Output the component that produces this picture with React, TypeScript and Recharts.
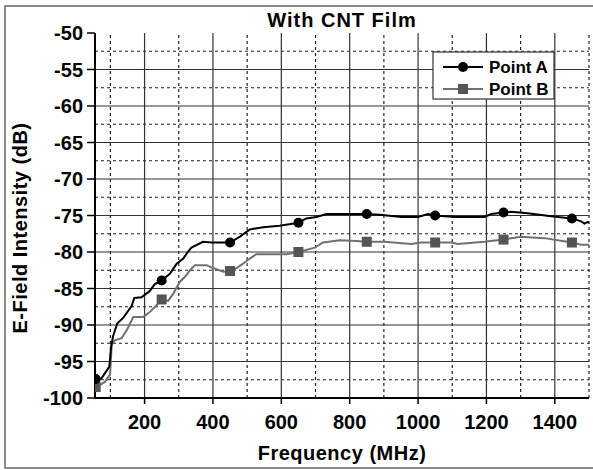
import { LineChart, Line, XAxis, YAxis, ReferenceLine } from 'recharts';

// Point A (black, circles)
const freqA = [57, 74, 97, 102, 108, 120, 138, 162, 170, 191, 214, 230, 250, 274, 294, 313, 328, 337, 371, 396, 450, 479, 508, 547, 595, 650, 673, 703, 732, 850, 888, 951, 1000, 1029, 1050, 1107, 1194, 1214, 1250, 1272, 1321, 1389, 1450, 1477, 1487, 1495, 1500];
const dbA = [-97.4, -97.3, -95.7, -93.0, -91.5, -89.8, -89.0, -87.4, -86.3, -86.2, -85.4, -84.4, -83.9, -83.0, -81.6, -80.9, -79.9, -79.4, -78.6, -78.7, -78.7, -77.9, -76.9, -76.6, -76.4, -76.0, -75.4, -75.2, -74.8, -74.8, -74.9, -75.2, -75.2, -74.8, -75.0, -75.2, -75.2, -74.8, -74.6, -74.5, -74.7, -75.1, -75.4, -75.8, -76.1, -75.9, -76.0];

// Point B (gray, squares)
const freqB = [57, 70, 84, 99, 104, 113, 133, 148, 167, 196, 216, 235, 250, 269, 284, 303, 318, 333, 347, 381, 400, 430, 450, 469, 488, 508, 527, 615, 650, 698, 722, 771, 820, 850, 902, 980, 1009, 1050, 1097, 1116, 1194, 1250, 1301, 1370, 1450, 1477, 1500];
const dbB = [-98.5, -98.2, -97.8, -96.8, -92.7, -92.1, -91.8, -90.7, -88.9, -88.9, -88.2, -87.3, -86.5, -86.7, -85.7, -84.1, -83.4, -82.5, -81.8, -81.8, -82.2, -82.7, -82.6, -82.2, -81.6, -80.9, -80.3, -80.3, -80.0, -79.4, -78.7, -78.4, -78.5, -78.6, -78.6, -78.9, -78.7, -78.7, -78.7, -78.9, -78.6, -78.3, -77.9, -78.1, -78.7, -79.0, -79.0];

const markerFreqs = [57, 250, 450, 650, 850, 1050, 1250, 1450];

const xMajor = [200, 400, 600, 800, 1000, 1200, 1400];
const xMinor = [100, 300, 500, 700, 900, 1100, 1300, 1500];
const yMajor = [-100, -95, -90, -85, -80, -75, -70, -65, -60, -55, -50];
const yMinor = [-97.5, -92.5, -87.5, -82.5, -77.5, -72.5, -67.5, -62.5, -57.5, -52.5];

const dataA = freqA.map((f, i) => ({ f, v: dbA[i] }));
const dataB = freqB.map((f, i) => ({ f, v: dbB[i] }));

const FONT = '"Liberation Sans", Arial, sans-serif';
const tickStyle = { fontSize: 20, fontWeight: 700, fill: '#000', fontFamily: FONT };

const circleDot = (p: any) =>
  markerFreqs.includes(p.payload.f)
    ? <circle key={`a${p.index}`} cx={p.cx} cy={p.cy} r={5} fill="#000" />
    : <g key={`a${p.index}`} />;

const squareDot = (p: any) =>
  markerFreqs.includes(p.payload.f)
    ? <rect key={`b${p.index}`} x={p.cx - 5} y={p.cy - 5} width={10} height={10} fill="#555" />
    : <g key={`b${p.index}`} />;

export default function App() {
  return (
    <div style={{ position: 'absolute', left: 0, top: 0, width: 593, height: 470, background: '#fff', fontFamily: FONT }}>
      <LineChart width={593} height={470} margin={{ top: 33, right: 4, left: 0, bottom: 0 }}>
        <XAxis type="number" dataKey="f" domain={[55, 1500]} allowDataOverflow ticks={xMajor} height={72}
          tick={tickStyle} tickSize={6} tickMargin={11} axisLine={{ stroke: '#000', strokeWidth: 2 }} tickLine={{ stroke: '#000', strokeWidth: 1.5 }} />
        <YAxis type="number" domain={[-100, -50]} ticks={yMajor} width={95} interval={0}
          tick={tickStyle} tickSize={8} tickMargin={4} axisLine={{ stroke: '#000', strokeWidth: 2 }} tickLine={{ stroke: '#000', strokeWidth: 1.5 }} />
        {xMinor.map((x) => <ReferenceLine key={`xm${x}`} x={x} stroke="#222" strokeDasharray="3 3" strokeWidth={1.2} />)}
        {yMinor.map((y) => <ReferenceLine key={`ym${y}`} y={y} stroke="#222" strokeDasharray="3 3" strokeWidth={1.2} />)}
        {xMajor.map((x) => <ReferenceLine key={`xM${x}`} x={x} stroke="#333" strokeWidth={1.2} />)}
        {yMajor.filter((y) => y > -100 && y < -50).map((y) => <ReferenceLine key={`yM${y}`} y={y} stroke="#333" strokeWidth={1.2} />)}
        <Line data={dataB} dataKey="v" type="linear" stroke="#707070" strokeWidth={2} dot={squareDot} activeDot={false} isAnimationActive={false} />
        <Line data={dataA} dataKey="v" type="linear" stroke="#000" strokeWidth={2} dot={circleDot} activeDot={false} isAnimationActive={false} />
      </LineChart>
      <svg width={593} height={470} style={{ position: 'absolute', left: 0, top: 0, pointerEvents: 'none' }}>
        <path d="M600 6 H5 V468 H600" fill="none" stroke="#666" strokeWidth={1.5} />
        <text x={342} y={27} textAnchor="middle" fontSize={20} fontWeight={700} letterSpacing={1} fontFamily={FONT}>With CNT Film</text>
        <text x={342} y={460} textAnchor="middle" fontSize={20} fontWeight={700} letterSpacing={0.5} fontFamily={FONT}>Frequency (MHz)</text>
        <text transform="translate(27,228) rotate(-90)" textAnchor="middle" fontSize={20} fontWeight={700} letterSpacing={0.5} fontFamily={FONT}>E-Field Intensity (dB)</text>
        <rect x={433} y={52} width={121} height={47} fill="#fff" stroke="#333" strokeWidth={1.2} />
        <line x1={443} y1={67} x2={483} y2={67} stroke="#000" strokeWidth={2} />
        <circle cx={463} cy={67} r={5} fill="#000" />
        <text x={489} y={73} fontSize={17} fontWeight={700} fontFamily={FONT}>Point A</text>
        <line x1={443} y1={89} x2={483} y2={89} stroke="#707070" strokeWidth={2} />
        <rect x={458} y={84} width={10} height={10} fill="#555" />
        <text x={489} y={95} fontSize={17} fontWeight={700} fontFamily={FONT}>Point B</text>
      </svg>
    </div>
  );
}
